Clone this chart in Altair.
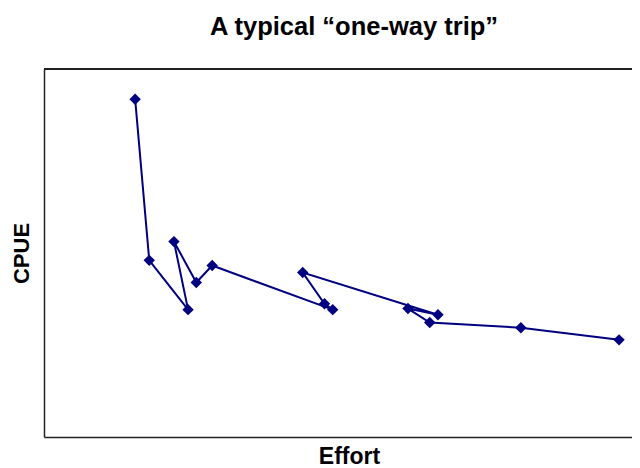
import altair as alt
import pandas as pd

effort = [15.5, 17.9, 24.5, 22.1, 25.9, 28.6, 49.1, 47.7, 44.0, 67.0, 61.9, 65.6, 81.1, 97.8]
cpue = [91.8, 48.0, 34.6, 53.1, 42.0, 46.6, 34.6, 36.2, 44.7, 33.2, 34.9, 31.1, 29.7, 26.4]
order = list(range(1, len(effort) + 1))

df = pd.DataFrame({"Effort": effort, "CPUE": cpue, "step": order})

W, H = 588, 368
NAVY = "#000080"
FONT = "Liberation Sans"

x = alt.X("Effort:Q", scale=alt.Scale(domain=[0, 100], nice=False, zero=False),
          axis=alt.Axis(title="Effort", ticks=False, labels=False, grid=False,
                        domain=True, domainColor="#222222", domainWidth=1.5,
                        titleFont=FONT, titleFontSize=23, titleFontWeight="bold",
                        titleColor="black", titlePadding=8, titleX=305))
y = alt.Y("CPUE:Q", scale=alt.Scale(domain=[0, 100], nice=False, zero=False),
          axis=alt.Axis(title="CPUE", ticks=False, labels=False, grid=False,
                        domain=True, domainColor="#222222", domainWidth=1.5,
                        titleFont=FONT, titleFontSize=22, titleFontWeight="bold",
                        titleColor="black", titlePadding=11))

line = alt.Chart(df).mark_line(color=NAVY, strokeWidth=2).encode(x=x, y=y, order="step:Q")
pts = alt.Chart(df).mark_point(shape="diamond", filled=True, color=NAVY, size=130, opacity=1).encode(x=x, y=y)
top = alt.Chart(df).mark_rule(color="#222222", strokeWidth=1.5).encode(
    x=alt.value(0), x2=alt.value(W), y=alt.value(0))

chart = alt.layer(top, line, pts).properties(
    width=W, height=H,
    title=alt.TitleParams("A typical “one-way trip”", font=FONT, fontSize=25.5,
                          fontWeight="bold", color="black", anchor="middle",
                          dx=16, offset=28),
    padding={"left": 36, "top": 61, "right": 0, "bottom": 31},
    autosize=alt.AutoSizeParams(type="none"),
).configure_view(stroke=None)

chart.save("out.html", embed_options={"renderer": "svg", "actions": False})
